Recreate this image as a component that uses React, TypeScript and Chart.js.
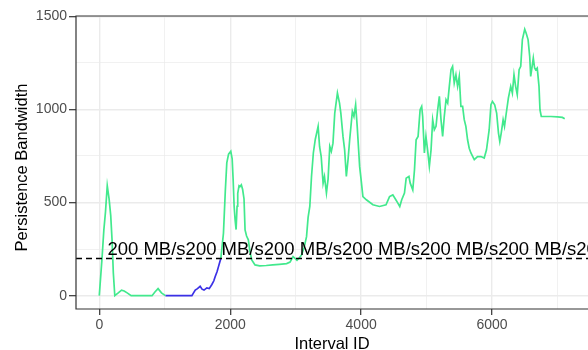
import { useEffect, useRef } from 'react';
import { Chart, registerables } from 'chart.js';

Chart.register(...registerables);

const FONT = '"Liberation Sans", Arial, Helvetica, sans-serif';

// Start-up burst and idle period (green)
const startupIds = [0, 40, 70, 95, 122, 150, 175, 195, 215, 237, 290, 340, 380, 426, 487, 600, 806, 850, 898, 950, 1010];
const startupBandwidth = [0, 190, 353, 450, 590, 520, 430, 300, 120, 0, 15, 30, 25, 15, 0, 0, 0, 20, 38, 15, 0];

// Slow ramp back up to the threshold (blue)
const rampIds = [1010, 1200, 1415, 1440, 1466, 1500, 1541, 1570, 1600, 1643, 1680, 1720, 1750, 1770, 1800, 1821, 1840, 1857];
const rampBandwidth = [0, 0, 0, 15, 30, 38, 50, 35, 30, 42, 38, 60, 80, 102, 130, 156, 180, 200];

// Rest of the run (green)
const runIds = [
  1857, 1897, 1925, 1948, 1975, 2009, 2030, 2045, 2060, 2075, 2090, 2105, 2115, 2135, 2150, 2170, 2190, 2211, 2227, 2250,
  2277, 2300, 2329, 2379, 2450, 2550, 2650, 2750, 2862, 2914, 2960, 2990, 3020, 3060, 3090, 3130, 3166, 3190, 3216, 3242,
  3270, 3300, 3343, 3365, 3390, 3419, 3440, 3470, 3495, 3521, 3545, 3570, 3597, 3638, 3670, 3690, 3723, 3748, 3774, 3800,
  3825, 3866, 3890, 3916, 3940, 3977, 4000, 4027, 4080, 4180, 4281, 4380, 4434, 4484, 4530, 4561, 4590, 4620, 4662, 4688,
  4730, 4750, 4789, 4815, 4840, 4870, 4901, 4925, 4940, 4966, 4990, 5015, 5042, 5068, 5093, 5118, 5144, 5169, 5195, 5220,
  5245, 5270, 5297, 5322, 5347, 5373, 5397, 5422, 5448, 5474, 5499, 5524, 5550, 5575, 5600, 5626, 5651, 5677, 5728, 5778,
  5830, 5880, 5915, 5956, 5983, 6006, 6040, 6070, 6098, 6118, 6140, 6169, 6190, 6210, 6249, 6285, 6310, 6335, 6360, 6385,
  6413, 6438, 6463, 6499, 6520, 6550, 6575, 6590, 6612, 6630, 6650, 6666, 6690, 6717, 6732, 6752, 6900, 7000, 7074, 7110,
];
const runBandwidth = [
  200, 336, 560, 713, 760, 775, 735, 622, 480, 407, 355, 480, 550, 590, 586, 595, 570, 520, 353, 320,
  300, 240, 192, 165, 160, 162, 165, 168, 172, 180, 210, 200, 190, 205, 219, 260, 317, 420, 479, 640,
  766, 840, 909, 801, 747, 604, 640, 551, 626, 801, 775, 819, 980, 1088, 1034, 980, 855, 783, 640, 730,
  837, 989, 962, 1025, 909, 694, 622, 532, 515, 488, 479, 488, 532, 541, 515, 497, 479, 515, 551, 631,
  640, 604, 568, 676, 837, 855, 998, 1016, 962, 766, 855, 783, 694, 783, 945, 891, 909, 998, 1070, 945,
  855, 962, 1052, 1034, 1124, 1213, 1231, 1141, 1186, 1124, 1177, 1016, 1016, 945, 909, 837, 792, 766, 730, 747,
  747, 739, 783, 891, 1025, 1043, 1025, 980, 873, 828, 873, 945, 909, 962, 1061, 1124, 1088, 1186, 1124, 1079,
  1213, 1231, 1375, 1430, 1410, 1375, 1285, 1177, 1231, 1276, 1222, 1213, 1222, 1124, 998, 962, 962, 960, 957, 950,
];

const THRESHOLD = 200;
const THRESHOLD_LABEL = `${THRESHOLD} MB/s`;
const LABEL_START_ID = 125;

const xGridValues = [0, 1000, 2000, 3000, 4000, 5000, 6000, 7000];
const xLabelValues = [0, 2000, 4000, 6000];
const yGridValues = [0, 250, 500, 750, 1000, 1250, 1500];
const yLabelValues = [0, 500, 1000, 1500];

const GREEN = '#42E98D';
const BLUE = '#3B30E6';

const toPoints = (ids: number[], vals: number[]) => ids.map((x, i) => ({ x, y: vals[i] }));

// 5% padding on each side of the data range
const allIds = [...startupIds, ...rampIds, ...runIds];
const allVals = [...startupBandwidth, ...rampBandwidth, ...runBandwidth];
const xLo = Math.min(...allIds);
const xHi = Math.max(...allIds);
const yLo = Math.min(...allVals);
const yHi = Math.max(...allVals);
const X_MIN = xLo - 0.05 * (xHi - xLo);
const X_MAX = xHi + 0.05 * (xHi - xLo);
const Y_MIN = yLo - 0.05 * (yHi - yLo);
const Y_MAX = yHi + 0.05 * (yHi - yLo);

const decorations = {
  id: 'decorations',
  afterDatasetsDraw(chart: any) {
    const { ctx, chartArea, scales } = chart;
    const xs = scales.x;
    const ys = scales.y;
    ctx.save();

    // threshold label, repeated along the dashed line
    ctx.font = `18.5px ${FONT}`;
    ctx.fillStyle = '#000000';
    ctx.textAlign = 'left';
    ctx.textBaseline = 'alphabetic';
    const w = ctx.measureText(THRESHOLD_LABEL).width;
    const baseY = ys.getPixelForValue(THRESHOLD) - 3;
    for (let px = xs.getPixelForValue(LABEL_START_ID); px < chart.width; px += w) {
      ctx.fillText(THRESHOLD_LABEL, px, baseY);
    }

    // panel border (left, top, bottom; the right side runs off the canvas)
    ctx.strokeStyle = '#333333';
    ctx.lineWidth = 1.2;
    ctx.beginPath();
    ctx.moveTo(chartArea.right + 2, chartArea.top);
    ctx.lineTo(chartArea.left, chartArea.top);
    ctx.lineTo(chartArea.left, chartArea.bottom);
    ctx.lineTo(chartArea.right + 2, chartArea.bottom);
    ctx.stroke();

    // axis titles
    ctx.font = `16.5px ${FONT}`;
    ctx.fillStyle = '#000000';
    ctx.textAlign = 'center';
    ctx.textBaseline = 'alphabetic';
    ctx.fillText('Interval ID', (chartArea.left + chartArea.right) / 2, 349);

    ctx.translate(27, (chartArea.top + chartArea.bottom) / 2 + 5);
    ctx.rotate(-Math.PI / 2);
    ctx.fillText('Persistence Bandwidth', 0, 0);

    ctx.restore();
  },
};

export default function App() {
  const canvasRef = useRef<HTMLCanvasElement | null>(null);

  useEffect(() => {
    const canvas = canvasRef.current;
    if (!canvas) return;

    const isMajorX = (v: number) => xLabelValues.includes(v);
    const isMajorY = (v: number) => yLabelValues.includes(v);

    const chart = new Chart(canvas, {
      type: 'line',
      data: {
        datasets: [
          {
            label: 'threshold',
            data: [
              { x: X_MIN, y: THRESHOLD },
              { x: X_MAX, y: THRESHOLD },
            ],
            borderColor: '#000000',
            borderWidth: 1.4,
            borderDash: [6, 4],
            pointRadius: 0,
          },
          {
            label: 'startup',
            data: toPoints(startupIds, startupBandwidth),
            borderColor: GREEN,
            borderWidth: 1.7,
            pointRadius: 0,
          },
          {
            label: 'ramp',
            data: toPoints(rampIds, rampBandwidth),
            borderColor: BLUE,
            borderWidth: 1.7,
            pointRadius: 0,
          },
          {
            label: 'run',
            data: toPoints(runIds, runBandwidth),
            borderColor: GREEN,
            borderWidth: 1.7,
            pointRadius: 0,
          },
        ],
      },
      plugins: [decorations],
      options: {
        animation: false,
        responsive: false,
        events: [],
        layout: { padding: { top: 16, right: 0, left: 0, bottom: 0 } },
        plugins: {
          legend: { display: false },
          tooltip: { enabled: false },
        },
        scales: {
          x: {
            type: 'linear',
            min: X_MIN,
            max: X_MAX,
            afterBuildTicks: (s: any) => {
              s.ticks = xGridValues.map((value) => ({ value }));
            },
            afterFit: (s: any) => {
              s.height = 41;
            },
            border: { display: false },
            grid: {
              color: '#EBEBEB',
              lineWidth: (c: any) => (isMajorX(c.tick?.value) ? 1.4 : 0.7),
              tickLength: 6,
              tickColor: (c: any) => (isMajorX(c.tick?.value) ? '#333333' : 'rgba(0,0,0,0)'),
              tickWidth: 1.2,
            },
            ticks: {
              autoSkip: false,
              maxRotation: 0,
              padding: 2,
              color: '#4D4D4D',
              font: { family: FONT, size: 14 },
              callback: (v: any) => (isMajorX(Number(v)) ? String(v) : ''),
            },
          },
          y: {
            type: 'linear',
            min: Y_MIN,
            max: Y_MAX,
            afterBuildTicks: (s: any) => {
              s.ticks = yGridValues.map((value) => ({ value }));
            },
            afterFit: (s: any) => {
              s.width = 76;
            },
            border: { display: false },
            grid: {
              color: '#EBEBEB',
              lineWidth: (c: any) => (isMajorY(c.tick?.value) ? 1.4 : 0.7),
              tickLength: 7,
              tickColor: (c: any) => (isMajorY(c.tick?.value) ? '#333333' : 'rgba(0,0,0,0)'),
              tickWidth: 1.2,
            },
            ticks: {
              autoSkip: false,
              padding: 2,
              color: '#4D4D4D',
              font: { family: FONT, size: 14 },
              callback: (v: any) => (isMajorY(Number(v)) ? String(v) : ''),
            },
          },
        },
      },
    });

    return () => chart.destroy();
  }, []);

  return (
    <div style={{ position: 'fixed', left: 0, top: 0, width: 588, height: 350, background: '#FFFFFF' }}>
      <canvas ref={canvasRef} width={588} height={350} style={{ display: 'block' }} />
    </div>
  );
}
